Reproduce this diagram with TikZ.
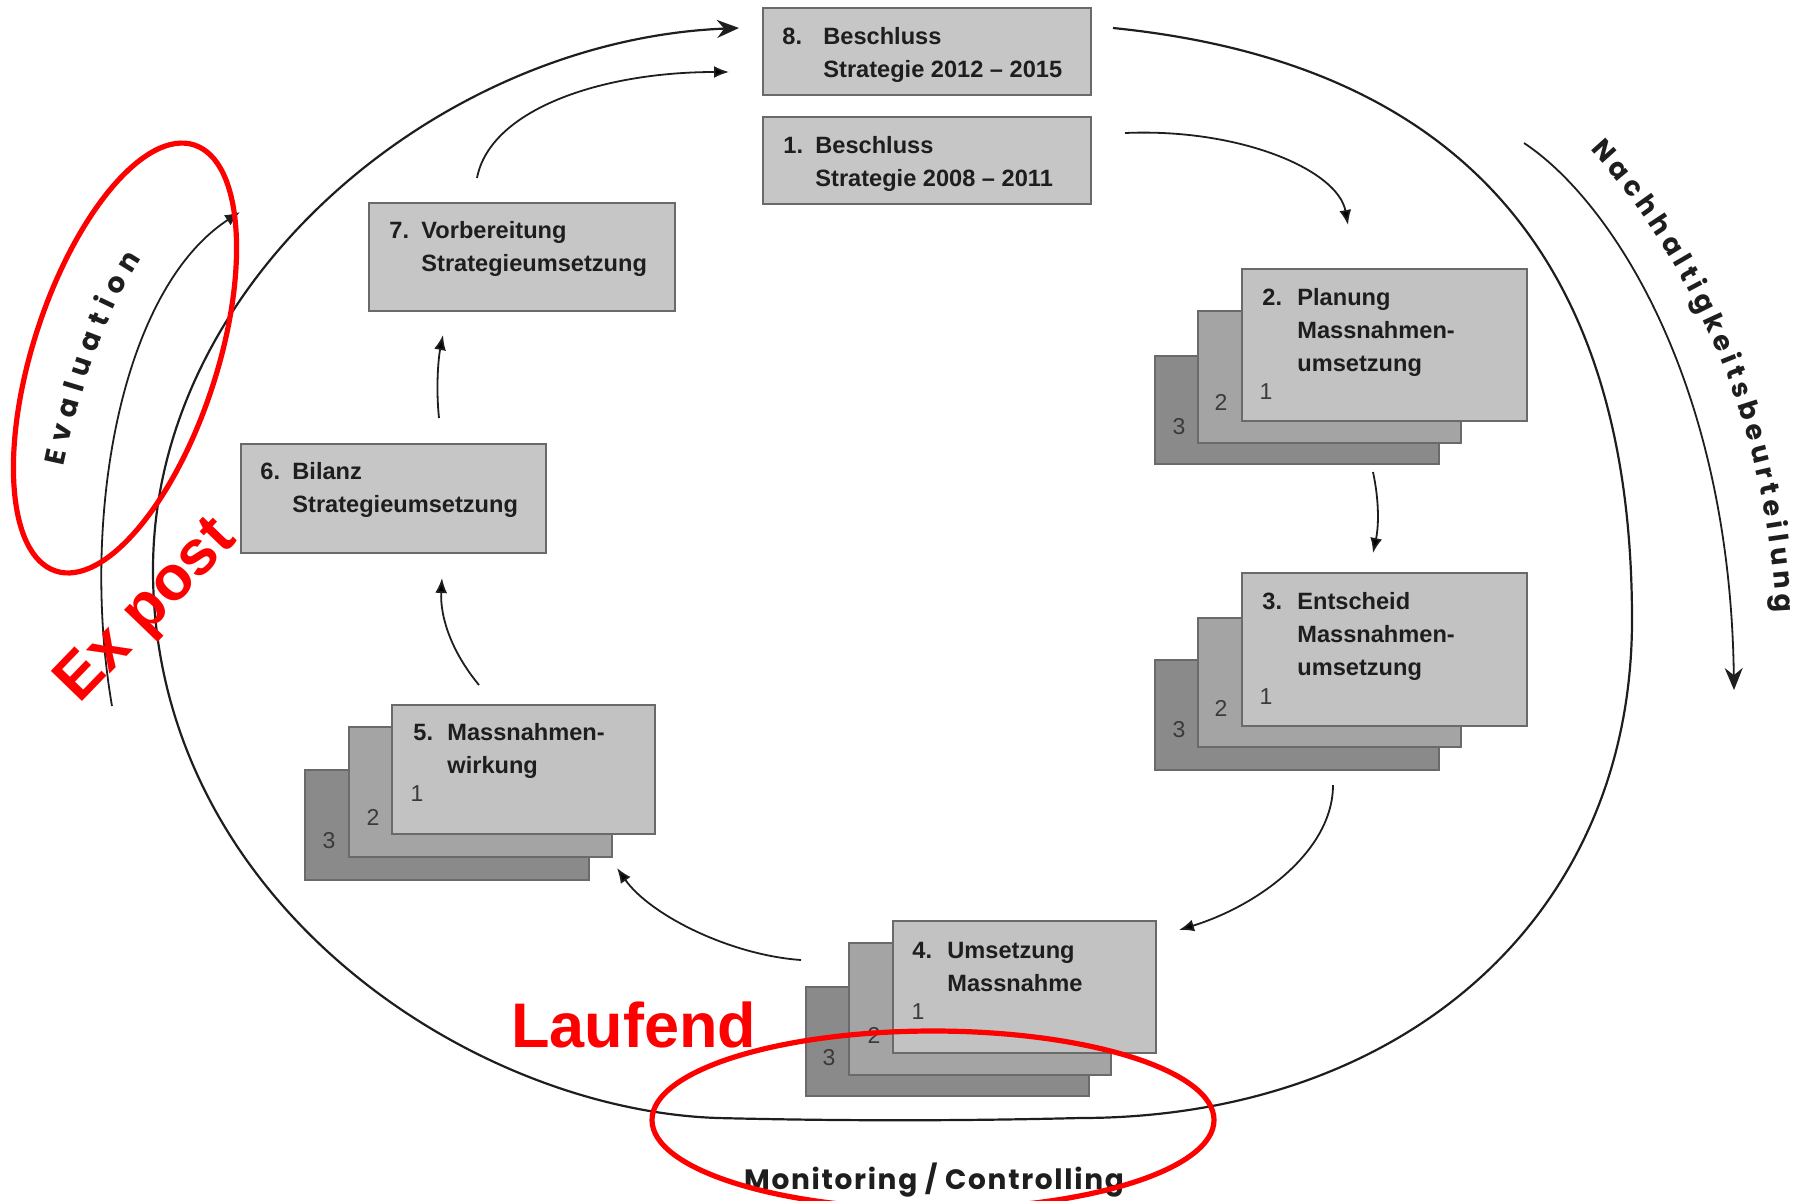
\documentclass[tikz,border=0pt]{standalone}
\usepackage{fontspec}
\setmainfont{Liberation Sans}
\newfontfamily\geofont{Poppins}
\newfontfamily\geowide{Poppins}[LetterSpace=6]
\usetikzlibrary{arrows.meta,decorations.text,shapes.geometric}
\definecolor{boxfill}{HTML}{C6C6C6}
\definecolor{cardA}{HTML}{C2C2C2}
\definecolor{cardB}{HTML}{A4A4A4}
\definecolor{cardC}{HTML}{8A8A8A}
\definecolor{edge}{HTML}{6A6A6A}
\definecolor{ink}{HTML}{1E1E1E}
\definecolor{numink}{HTML}{3A3A3A}
\definecolor{annot}{HTML}{FF0000}
\newcommand\bx[6]{\node[#1, minimum width={(#5-#3)*0.5pt}, minimum height={(#6-#4)*0.5pt}] (#2) at (#3,#4) {};}
\newcommand\lns[1]{\begin{tabular}[t]{@{}l@{}}#1\end{tabular}}
\begin{document}
\begin{tikzpicture}[x=0.5pt,y=-0.5pt,
  panel/.style={draw=edge, line width=0.8pt, inner sep=0pt, outer sep=0pt, anchor=north west, rectangle},
  mainbox/.style={panel, fill=boxfill},
  cardfront/.style={panel, fill=cardA},
  cardmid/.style={panel, fill=cardB},
  cardback/.style={panel, fill=cardC},
  lbl/.style={inner sep=0pt, anchor=base west, text=ink, font=\bfseries\fontsize{11.8}{16.5}\selectfont},
  cnum/.style={inner sep=0pt, text=numink, font=\fontsize{11.5}{13}\selectfont},
  flow/.style={line width=0.9pt, draw=ink, -{Latex[length=7.5pt,width=6pt]}},
  bigloop/.style={line width=1.1pt, draw=ink, -{Stealth[length=11pt,width=9pt]}},
  ring/.style={draw=annot, line width=2.6pt, ellipse, inner sep=0pt},
  redtxt/.style={text=annot, inner sep=0pt, font=\bfseries\fontsize{31.5}{36}\selectfont},
]
\useasboundingbox (0,0) rectangle (1810,1200);
\clip (0,0) rectangle (1810,1200);

% ---- connectors (curves) ----
\coordinate (L0) at (1113,28);
\coordinate (L1) at (739,28);
\draw[bigloop] (L0) .. controls (1480,65) and (1632,280) .. (1632,620)
  .. controls (1632,920) and (1400,1118) .. (1080,1118)
  .. controls (960,1121) and (840,1121) .. (718,1118)
  .. controls (470,1110) and (153,900) .. (153,570)
  .. controls (153,280) and (440,40) .. (L1);

\coordinate (e0) at (112,706);
\coordinate (e1) at (240,212);
\draw[flow] (e0) .. controls (80,520) and (120,290) .. (e1);

\coordinate (s0) at (1524,143);
\coordinate (s1) at (1734,690);
\draw[line width=0.9pt, draw=ink, -{Stealth[length=11pt,width=9pt]}] (s0) .. controls (1610,200) and (1730,380) .. (s1);

\path[decorate, decoration={text along path, text align={fit to path}, text color=ink,
  text={|\geofont\bfseries\fontsize{13.5}{15}\selectfont|Nachhaltigkeitsbeurteilung}}]
  (1590,150) .. controls (1660,225) and (1765,385) .. (1776,612);

\path[decorate, decoration={text along path, text align={fit to path}, text color=ink,
  text={|\geofont\bfseries\fontsize{14}{16}\selectfont|Evaluation}}]
  (64,466) .. controls (78,400) and (100,322) .. (142,258);

\coordinate (c1a) at (1125,133); \coordinate (c1b) at (1348,225);
\draw[flow] (c1a) .. controls (1240,128) and (1338,170) .. (c1b);
\coordinate (c2a) at (1373,472); \coordinate (c2b) at (1373,553);
\draw[flow] (c2a) .. controls (1379,500) and (1379,525) .. (c2b);
\coordinate (c3a) at (1333,785); \coordinate (c3b) at (1179,930);
\draw[flow] (c3a) .. controls (1333,850) and (1260,905) .. (c3b);
\coordinate (c4a) at (801,960); \coordinate (c4b) at (617,868);
\draw[flow] (c4a) .. controls (730,955) and (650,915) .. (c4b);
\coordinate (c5a) at (479,685); \coordinate (c5b) at (442,578);
\draw[flow] (c5a) .. controls (450,650) and (440,615) .. (c5b);
\coordinate (c6a) at (439,418); \coordinate (c6b) at (443,335);
\draw[flow] (c6a) .. controls (436,390) and (438,360) .. (c6b);
\coordinate (c7a) at (477,178); \coordinate (c7b) at (729,72);
\draw[flow] (c7a) .. controls (490,110) and (600,72) .. (c7b);

% ---- single boxes ----
\bx{mainbox}{b8}{763}{8}{1091}{95}
\node[lbl] (b8n) at (782,44) {8.};
\node[lbl] (b8t) at (823,44) {\lns{Beschluss\\Strategie 2012 – 2015}};

\bx{mainbox}{b1}{763}{117}{1091}{204}
\node[lbl] (b1n) at (783,153) {1.};
\node[lbl] (b1t) at (815,153) {\lns{Beschluss\\Strategie 2008 – 2011}};

\bx{mainbox}{b7}{369}{203}{675}{311}
\node[lbl] (b7n) at (389,238) {7.};
\node[lbl] (b7t) at (421,238) {\lns{Vorbereitung\\Strategieumsetzung}};

\bx{mainbox}{b6}{241}{444}{546}{553}
\node[lbl] (b6n) at (260,479) {6.};
\node[lbl] (b6t) at (292,479) {\lns{Bilanz\\Strategieumsetzung}};

% ---- stacks ----
% 2
\bx{cardback}{b2c}{1155}{356}{1439}{464}
\bx{cardmid}{b2b}{1198}{311}{1461}{443}
\bx{cardfront}{b2a}{1242}{269}{1527}{421}
\node[cnum] (b2n3) at (1179,427) {3};
\node[cnum] (b2n2) at (1221,402) {2};
\node[cnum] (b2n1) at (1266,392) {1};
\node[lbl] (b2n) at (1262,305) {2.};
\node[lbl] (b2t) at (1297,305) {\lns{Planung\\Massnahmen-\\umsetzung}};
% 3
\bx{cardback}{b3c}{1155}{660}{1439}{770}
\bx{cardmid}{b3b}{1198}{618}{1461}{747}
\bx{cardfront}{b3a}{1242}{573}{1527}{726}
\node[cnum] (b3n3) at (1179,730) {3};
\node[cnum] (b3n2) at (1221,708) {2};
\node[cnum] (b3n1) at (1266,697) {1};
\node[lbl] (b3n) at (1262,609) {3.};
\node[lbl] (b3t) at (1297,609) {\lns{Entscheid\\Massnahmen-\\umsetzung}};
% 5
\bx{cardback}{b5c}{305}{770}{589}{880}
\bx{cardmid}{b5b}{349}{727}{612}{857}
\bx{cardfront}{b5a}{392}{705}{655}{834}
\node[cnum] (b5n3) at (329,841) {3};
\node[cnum] (b5n2) at (373,817) {2};
\node[cnum] (b5n1) at (417,794) {1};
\node[lbl] (b5n) at (413,740) {5.};
\node[lbl] (b5t) at (447,740) {\lns{Massnahmen-\\wirkung}};
% 4
\bx{cardback}{b4c}{806}{987}{1089}{1096}
\bx{cardmid}{b4b}{849}{943}{1111}{1075}
\bx{cardfront}{b4a}{893}{921}{1156}{1053}
\node[cnum] (b4n3) at (829,1058) {3};
\node[cnum] (b4n2) at (874,1035) {2};
\node[cnum] (b4n1) at (918,1012) {1};
\node[lbl] (b4n) at (912,958) {4.};
\node[lbl] (b4t) at (947,958) {\lns{Umsetzung\\Massnahme}};

\node[inner sep=0pt, anchor=base, text=ink, font=\geowide\bfseries\fontsize{14}{16}\selectfont] (monitor) at (934,1189) {Monitoring / Controlling};

% ---- red annotations ----
\node[ring, minimum width=224pt, minimum height=92pt, rotate=72] (evalring) at (125,358) {};
\node[ring, minimum width=281pt, minimum height=89pt] (monring) at (933,1120) {};
\node[redtxt, rotate=46] (expost) at (148,612) {Ex post};
\node[redtxt, anchor=base west] (laufend) at (511,1047) {Laufend};
\end{tikzpicture}
\end{document}
